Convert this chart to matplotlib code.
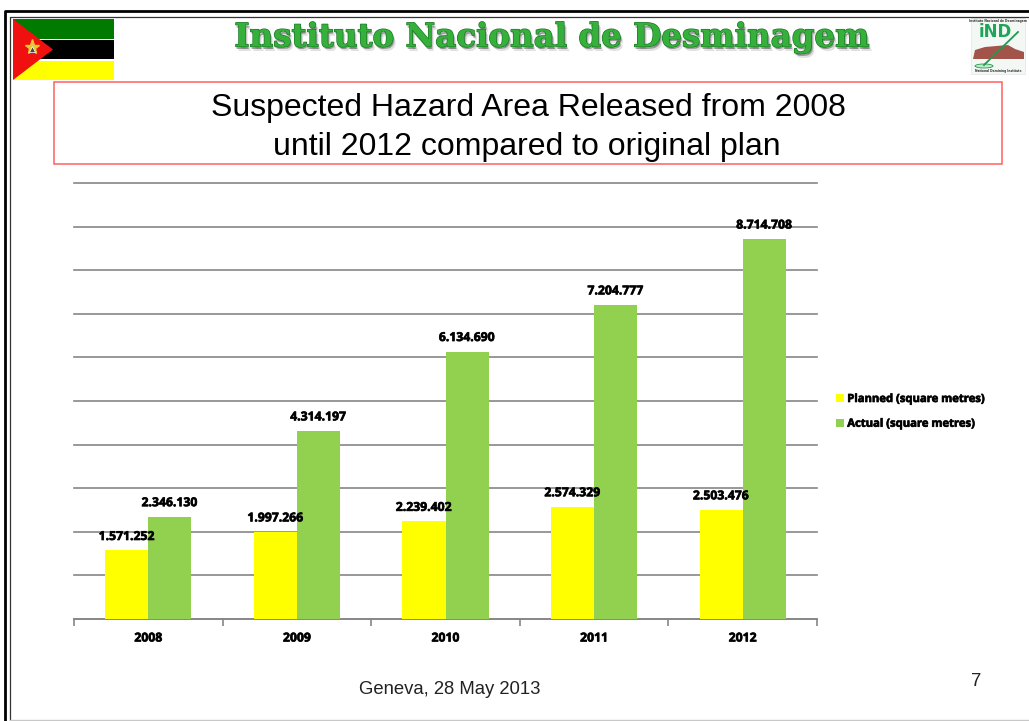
import numpy as np
import matplotlib
matplotlib.use('Agg')
import matplotlib.pyplot as plt
import matplotlib.patheffects as pe
from matplotlib.patches import Rectangle, Polygon, Ellipse

years = ['2008', '2009', '2010', '2011', '2012']
planned = [1571252, 1997266, 2239402, 2574329, 2503476]
actual = [2346130, 4314197, 6134690, 7204777, 8714708]
planned_labels = ['1.571.252', '1.997.266', '2.239.402', '2.574.329', '2.503.476']
actual_labels = ['2.346.130', '4.314.197', '6.134.690', '7.204.777', '8.714.708']

W, H = 1029, 721
YELLOW = '#ffff00'
GREEN = '#92d050'
GREY = '#868686'
heavy = [pe.withStroke(linewidth=0.5, foreground='#111111')]

fig = plt.figure(figsize=(W / 100, H / 100), dpi=100)

# page layer in pixel coordinates
bg = fig.add_axes([0, 0, 1, 1])
bg.set_xlim(0, W)
bg.set_ylim(H, 0)
bg.axis('off')

# double frame of the slide
bg.plot([4.5, 4.5, W], [H, 11, 11], color='black', lw=2, solid_capstyle='butt')
bg.plot([9.5, 9.5, W], [H, 17, 17], color='#333333', lw=0.9, solid_capstyle='butt')
bg.plot([10, W], [720, 720], color='#c8c8c8', lw=1)

# flag
bg.add_patch(Rectangle((13, 19), 101, 20, color='#007a00', lw=0))
bg.add_patch(Rectangle((13, 40), 101, 19, color='black', lw=0))
bg.add_patch(Rectangle((13, 61), 101, 19, color=YELLOW, lw=0))
bg.add_patch(Polygon([(13, 19), (53, 49.5), (13, 80)], color='#f01010', lw=0))
bg.plot([32], [47], marker='*', ms=11, color='#e8c830', mec='#e8c830')
bg.plot([32], [49], marker='^', ms=4.5, color='#444444', mec='white', mew=0.5)

# header text with a soft shadow
for dx, dy, a in [(3, 4, 0.15), (2, 3, 0.25), (1, 2, 0.3)]:
    bg.text(552 + dx, 38 + dy, 'Instituto Nacional de Desminagem', color='#303030',
            alpha=a, fontsize=23.4, family='DejaVu Serif', weight='bold',
            ha='center', va='center')
bg.text(552, 38, 'Instituto Nacional de Desminagem', color='#35b03a',
        fontsize=23.4, family='DejaVu Serif', weight='bold', ha='center', va='center',
        path_effects=[pe.withStroke(linewidth=1, foreground='#1c7a28')])

# logo on the right
bg.add_patch(Rectangle((971, 18), 54, 56, facecolor='#f4f8f4', edgecolor='#e4e4e4', lw=0.5))
bg.text(998, 21, 'Instituto Nacional de Desminagem', fontsize=2.2, weight='bold',
        ha='center', va='center', color='#333333')
bg.text(995, 32, 'iND', fontsize=12, weight='bold', color='#1fa55a', ha='center', va='center')
bg.add_patch(Polygon([(973, 59), (975, 50), (985, 47), (1008, 45), (1015, 49),
                      (1024, 52), (1024, 59)], color='#a2534a', lw=0))
bg.plot([984, 1018], [65, 32], color='#1f9a50', lw=1.3)
bg.add_patch(Ellipse((984, 66), 18, 4, facecolor='#bfe8c8', edgecolor='#1f9a50', lw=0.6))
bg.text(998, 71, 'National Demining Institute', fontsize=2.2, weight='bold',
        ha='center', va='center', color='#333333')

# title box
bg.add_patch(Rectangle((54, 82), 948, 82, facecolor='white', edgecolor='#ff5f5f', lw=1.1))
bg.text(528, 108, 'Suspected Hazard Area Released from 2008', fontsize=23,
        family='Liberation Sans', ha='center', va='center', color='black')
bg.text(527, 147, 'until 2012 compared to original plan', fontsize=23,
        family='Liberation Sans', ha='center', va='center', color='black')

# footer
bg.text(450, 690, 'Geneva, 28 May 2013', fontsize=13.3, family='Liberation Sans',
        ha='center', va='center', color='#222222')
bg.text(976, 682, '7', fontsize=13.3, family='Liberation Sans',
        ha='center', va='center', color='#222222')

# chart
ax_left, ax_right, ax_top, ax_bottom = 74, 817, 183, 619
ax = fig.add_axes([ax_left / W, 1 - ax_bottom / H, (ax_right - ax_left) / W,
                   (ax_bottom - ax_top) / H])
ax.patch.set_alpha(0)
x = np.arange(len(years))
width = 0.29
ax.bar(x - width / 2, planned, width, color=YELLOW, label='Planned (square metres)', zorder=3)
ax.bar(x + width / 2, actual, width, color=GREEN, label='Actual (square metres)', zorder=3)

ax.set_xlim(-0.5, len(years) - 0.5)
ax.set_ylim(0, 10000000)
ax.set_yticks(np.arange(1000000, 10000001, 1000000))
ax.set_yticklabels([])
ax.tick_params(axis='y', length=0)
ax.grid(axis='y', color=GREY, lw=1.2, zorder=0, clip_on=False)
ax.set_axisbelow(True)
for s in ['top', 'left', 'right']:
    ax.spines[s].set_visible(False)
ax.spines['bottom'].set_color(GREY)
ax.spines['bottom'].set_linewidth(1.4)

ax.set_xticks(np.arange(-0.5, len(years)), minor=False)
ax.set_xticklabels([])
ax.tick_params(axis='x', direction='out', length=5, color=GREY, width=1.2)
ax.set_xticks(x, minor=True)
ax.set_xticklabels(years, minor=True, fontsize=8.8, weight='bold', family='Open Sans',
                   path_effects=heavy)
ax.tick_params(axis='x', which='minor', length=0, pad=9)

for i in x:
    ax.annotate(planned_labels[i], (i - width / 2, planned[i]), xytext=(0, 14),
                textcoords='offset pixels', ha='center', va='center', fontsize=8.8,
                weight='bold', family='Open Sans', zorder=5, path_effects=heavy)
    ax.annotate(actual_labels[i], (i + width / 2, actual[i]), xytext=(0, 14),
                textcoords='offset pixels', ha='center', va='center', fontsize=8.8,
                weight='bold', family='Open Sans', zorder=5, path_effects=heavy)

leg = fig.legend(loc='upper left', bbox_to_anchor=(836 / W, 1 - 394 / H), frameon=False,
                 prop={'size': 8.1, 'weight': 'bold', 'family': 'Open Sans'},
                 handlelength=0.72, handleheight=0.72, handletextpad=0.28,
                 labelspacing=1.22, borderpad=0, borderaxespad=0)
for t in leg.get_texts():
    t.set_path_effects(heavy)

fig.savefig('out.png', dpi=100)
